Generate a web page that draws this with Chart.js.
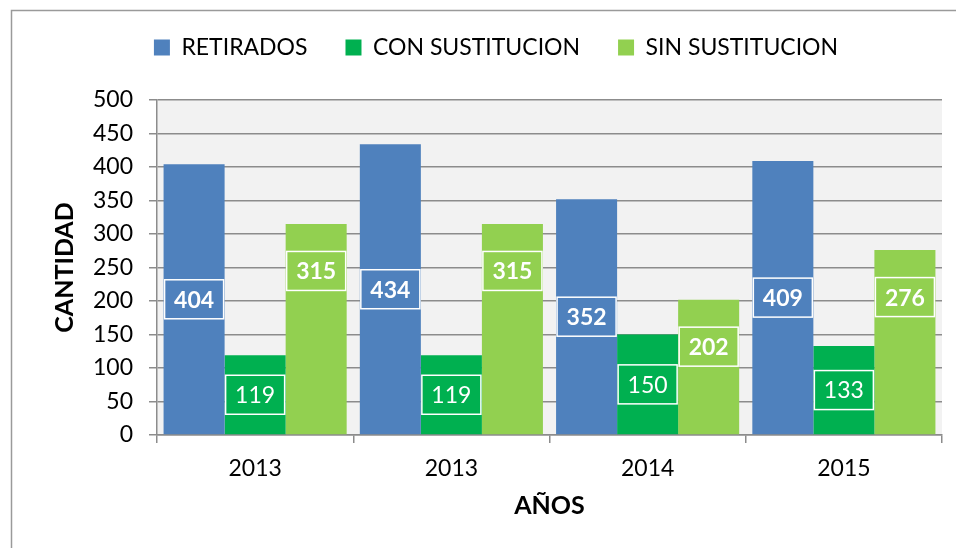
<!DOCTYPE html>
<html lang="es">
<head>
  <meta charset="UTF-8">
  <title>Retirados por año</title>
  <script src="https://cdn.jsdelivr.net/npm/chart.js"></script>
  <style>
    body {
      margin: 0;
      background: #fff;
      overflow: hidden;
    }
    .chart-box {
      width: 956px;
      height: 548px;
    }
  </style>
</head>
<body>
  <div class="chart-box">
    <canvas id="chart"></canvas>
  </div>

  <script>
    const years = ['2013', '2013', '2014', '2015'];
    const retirados = [404, 434, 352, 409];
    const conSustitucion = [119, 119, 150, 133];
    const sinSustitucion = [315, 315, 202, 276];
    const yTicks = [0, 50, 100, 150, 200, 250, 300, 350, 400, 450, 500];

    const FONT = 'Lato, "Open Sans", sans-serif';
    const gridGray = '#8c8c8c';

    // plot background + outer frame
    const backdrop = {
      id: 'backdrop',
      beforeDraw(chart) {
        const { ctx, chartArea: a } = chart;
        ctx.save();
        ctx.fillStyle = '#f2f2f2';
        ctx.fillRect(a.left, a.top, a.right - a.left, a.bottom - a.top);
        ctx.strokeStyle = '#9a9a9a';
        ctx.lineWidth = 1.5;
        ctx.strokeRect(11.5, 10.5, 2000, 2000);
        ctx.restore();
      }
    };

    // boxed value labels like the Excel ones
    const boxLabels = {
      id: 'boxLabels',
      afterDatasetsDraw(chart) {
        const { ctx } = chart;
        ctx.save();
        chart.data.datasets.forEach((ds, i) => {
          const meta = chart.getDatasetMeta(i);
          meta.data.forEach((bar, j) => {
            const text = String(ds.data[j]);
            ctx.font = (ds.labelBold ? 'bold ' : '') + '23px ' + FONT;
            const w = ctx.measureText(text).width + 19;
            const h = 39;
            let cy = (bar.y + bar.base) / 2;
            if (ds.labelNearTop) cy = bar.y + 47;
            ctx.fillStyle = ds.backgroundColor;
            ctx.fillRect(bar.x - w / 2, cy - h / 2, w, h);
            ctx.strokeStyle = '#ffffff';
            ctx.lineWidth = 1.5;
            ctx.strokeRect(bar.x - w / 2, cy - h / 2, w, h);
            ctx.fillStyle = '#ffffff';
            ctx.textAlign = 'center';
            ctx.textBaseline = 'middle';
            ctx.fillText(text, bar.x, cy + 1);
          });
        });
        ctx.restore();
      }
    };

    const legendHeight = {
      id: 'legendHeight',
      afterInit(chart) {
        const fit = chart.legend.fit;
        chart.legend.fit = function () {
          fit.call(this);
          this.height = 102;
        };
      }
    };

    new Chart(document.getElementById('chart'), {
      type: 'bar',
      data: {
        labels: years,
        datasets: [
          { label: 'RETIRADOS', data: retirados, backgroundColor: '#4f81bd', labelBold: true },
          { label: 'CON SUSTITUCION', data: conSustitucion, backgroundColor: '#00b050' },
          { label: 'SIN SUSTITUCION', data: sinSustitucion, backgroundColor: '#92d050', labelBold: true, labelNearTop: true }
        ]
      },
      options: {
        responsive: true,
        maintainAspectRatio: false,
        animation: false,
        layout: { padding: { left: 50, right: 14, top: -2, bottom: 0 } },
        datasets: {
          bar: { categoryPercentage: 0.933, barPercentage: 1.0 }
        },
        plugins: {
          tooltip: { enabled: false },
          legend: {
            position: 'top',
            labels: {
              boxWidth: 16,
              boxHeight: 16,
              padding: 38,
              color: '#000',
              font: { family: FONT, size: 23 }
            }
          }
        },
        scales: {
          x: {
            grid: {
              offset: true,
              drawOnChartArea: false,
              color: gridGray,
              lineWidth: 1.5,
              tickLength: 8
            },
            border: { color: gridGray, width: 1.5 },
            ticks: {
              color: '#000',
              padding: 12,
              font: { family: FONT, size: 23 }
            },
            title: {
              display: true,
              text: 'AÑOS',
              color: '#000',
              padding: { top: 0, bottom: 27 },
              font: { family: FONT, size: 25, weight: 'bold' }
            },
            afterFit(scale) { scale.height = 113; }
          },
          y: {
            min: 0,
            max: 500,
            afterBuildTicks(scale) { scale.ticks = yTicks.map(v => ({ value: v })); },
            grid: {
              color: gridGray,
              lineWidth: 1.5,
              tickLength: 8
            },
            border: { color: gridGray, width: 1.5 },
            ticks: {
              color: '#000',
              padding: 16,
              font: { family: FONT, size: 23 }
            },
            title: {
              display: true,
              text: 'CANTIDAD',
              color: '#000',
              padding: { top: 0, bottom: 0 },
              font: { family: FONT, size: 25, weight: 'bold' }
            },
            afterFit(scale) { scale.width = 107; }
          }
        }
      },
      plugins: [backdrop, boxLabels, legendHeight]
    });
  </script>
</body>
</html>
